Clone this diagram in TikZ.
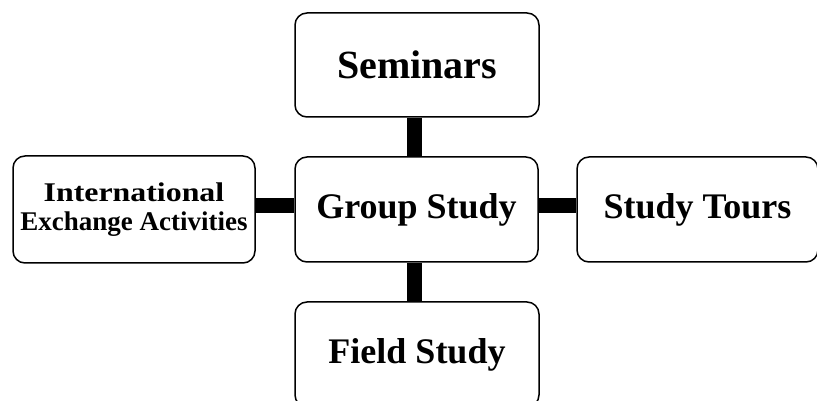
\documentclass[tikz,border=0pt]{standalone}
\usepackage{fontspec}
\setmainfont{Liberation Serif}
\usepackage{graphicx}
\begin{document}
\begin{tikzpicture}[x=1pt,y=1pt,
  box/.style={draw, line width=1.5pt, rounded corners=12pt, inner sep=0pt,
    align=center, font=\bfseries},
  conn/.style={line width=15pt, line cap=butt}]
\useasboundingbox (0,0) rectangle (817,401);
\clip (0,0) rectangle (817,401);
\node[box, minimum width=244pt, minimum height=104pt, font=\bfseries\fontsize{40}{44}\selectfont] (sem) at (417,336) {Seminars};
\node[box, minimum width=243pt, minimum height=105pt, font=\bfseries\fontsize{36}{40}\selectfont] (grp) at (416.5,191.5) {Group Study};
\node[box, minimum width=242pt, minimum height=107pt, font=\bfseries\fontsize{27}{29}\selectfont] (intl) at (134,191.5) {\scalebox{1.18}[1]{International}\\Exchange Activities};
\node[box, minimum width=241pt, minimum height=105pt, font=\bfseries\fontsize{36}{40}\selectfont] (tour) at (697.5,191.5) {Study Tours};
\node[box, minimum width=244pt, minimum height=105pt, font=\bfseries\fontsize{36}{40}\selectfont] (field) at (417,46.5) {Field Study};
\coordinate (cx) at (414,0);
\coordinate (cy) at (0,195.5);
\draw[conn] (sem.south -| cx) -- (grp.north -| cx);
\draw[conn] (grp.south -| cx) -- (field.north -| cx);
\draw[conn] (intl.east |- cy) -- (grp.west |- cy);
\draw[conn] (grp.east |- cy) -- (tour.west |- cy);
\end{tikzpicture}
\end{document}
